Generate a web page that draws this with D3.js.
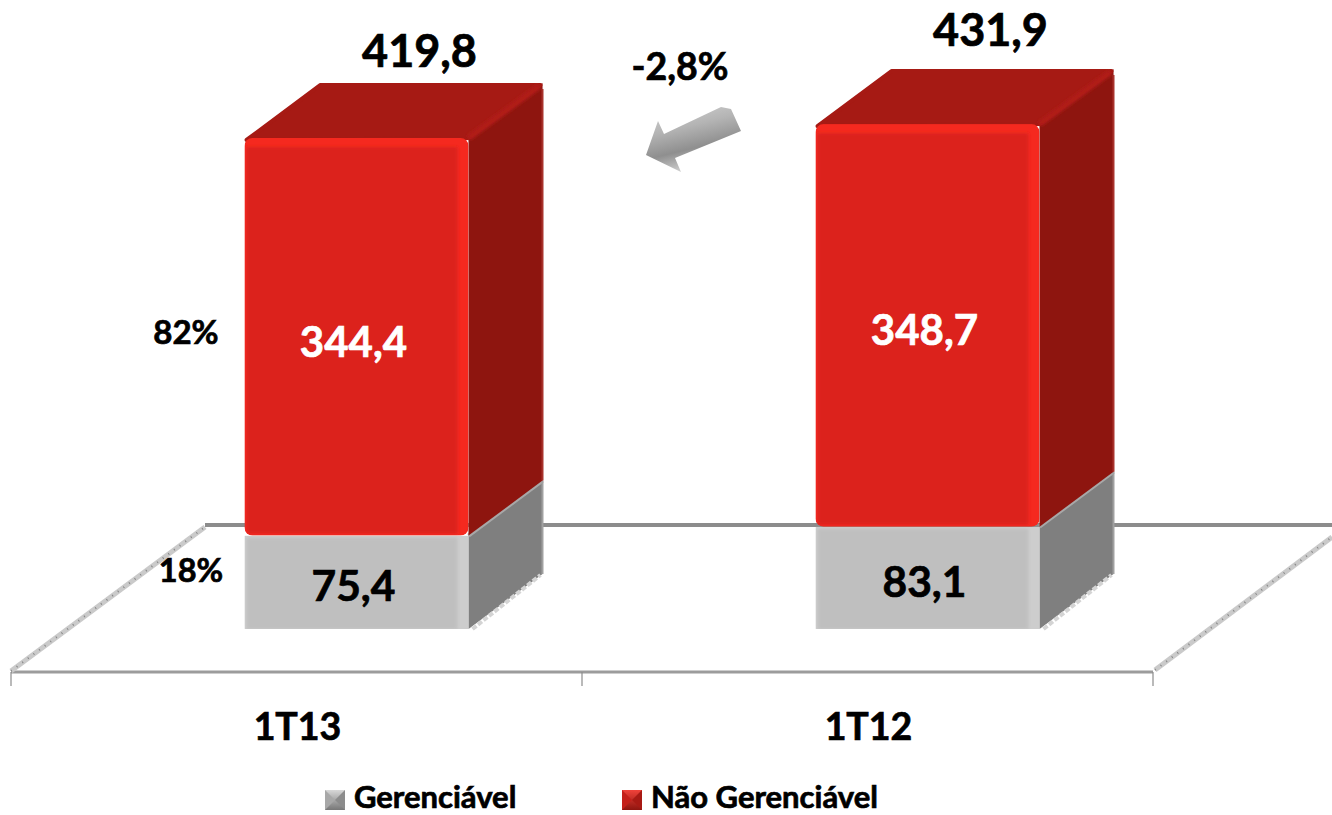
<!DOCTYPE html>
<html>
<head>
<meta charset="utf-8">
<script src="https://cdn.jsdelivr.net/npm/d3@7"></script>
<style>
	html, body { margin: 0; padding: 0; background: #fff; overflow: hidden; }
	text { font-family: Lato, "Open Sans", sans-serif; font-weight: 700; fill: #000; stroke: #000; stroke-width: 0.7; }
</style>
</head>
<body>
<svg id="chart" width="1332" height="815"></svg>
<script>
"use strict";

// Chart data
const categories = ["1T13", "1T12"];
const gerenciavel = [75.4, 83.1];
const naoGerenciavel = [344.4, 348.7];
const totals = [419.8, 431.9];
const shareGerenciavel = ["18%", null];
const shareNaoGerenciavel = ["82%", null];
const seriesNames = ["Gerenciável", "Não Gerenciável"];
const variation = "-2,8%";

// Layout
const width = 1332;
const barWidth = 224;
const barShift = 60; // Front face sits right of the band centre
const depthX = 74;
const depthY = 55;
const fmt = v => d3.format(".1f")(v).replace(".", ",");

const svg = d3.select("#chart");
const defs = svg.append("defs");

const x = d3.scaleBand().domain(categories).range([11, 1153]);
// The floor hangs a bit below zero, so the domain starts under it
const y = d3.scaleLinear().domain([-5.5, 431.9]).range([629, 124]);

const stacked = d3.stack().keys([0, 1]).value((d, k) => d[k])(
	categories.map((c, i) => [gerenciavel[i], naoGerenciavel[i]])
);

function linearGradient(id, stops, x2 = 0, y2 = 1) {
	const g = defs.append("linearGradient").attr("id", id)
		.attr("x1", 0).attr("y1", 0).attr("x2", x2).attr("y2", y2);
	stops.forEach(([o, c]) => g.append("stop").attr("offset", o).attr("stop-color", c));
}

linearGradient("arrowFill", [[0, "#d4d4d4"], [0.4, "#b4b4b4"], [0.72, "#8f8f8f"], [1, "#cfcfcf"]], 0.35, 1);
linearGradient("legendGrey", [[0, "#d8d8d8"], [1, "#777"]]);
linearGradient("legendRed", [[0, "#f0423a"], [1, "#8e150f"]]);

defs.append("filter").attr("id", "soft")
	.attr("x", "-5%").attr("y", "-5%").attr("width", "110%").attr("height", "110%")
	.append("feGaussianBlur").attr("stdDeviation", 1.6);
defs.append("filter").attr("id", "softer")
	.attr("x", "-5%").attr("y", "-5%").attr("width", "110%").attr("height", "110%")
	.append("feGaussianBlur").attr("stdDeviation", 0.7);

const palette = [
	{front: "#bfbfbf", edge: "#cdcdcd", top: "#a5a5a5", side: "#7f7f7f", rim: "#a8a8a8"},
	{front: "#dc241e", edge: "#f5291f", top: "#a61a14", side: "#8e150f", rim: "#b01c15"}
];

// Floor of the 3D plot
const floorFront = 672;
const floorBack = 525;
const floor = svg.append("g");
floor.append("line")
	.attr("x1", 205).attr("x2", width)
	.attr("y1", floorBack).attr("y2", floorBack)
	.attr("stroke", "#8c8c8c").attr("stroke-width", 4);
floor.append("line")
	.attr("x1", x.range()[0]).attr("x2", x.range()[1])
	.attr("y1", floorFront).attr("y2", floorFront)
	.attr("stroke", "#9c9c9c").attr("stroke-width", 3);

[[11, 671, 205, 527], [1155, 670, 1332, 537]].forEach(([x1, y1, x2, y2]) => {
	floor.append("line")
		.attr("x1", x1).attr("y1", y1).attr("x2", x2).attr("y2", y2)
		.attr("stroke", "#cacaca").attr("stroke-width", 5);
	floor.append("line")
		.attr("x1", x1).attr("y1", y1).attr("x2", x2).attr("y2", y2)
		.attr("stroke", "#858585").attr("stroke-width", 2).attr("stroke-dasharray", "1 6");
});

floor.selectAll("line.tick")
	.data([...categories.map(c => x(c)), x.range()[1]])
	.enter()
	.append("line")
	.attr("class", "tick")
	.attr("x1", d => d).attr("x2", d => d)
	.attr("y1", floorFront).attr("y2", floorFront + 14)
	.attr("stroke", "#8c8c8c").attr("stroke-width", 1.2);

// Bars, one segment at a time
function frontLeft(i) {
	return x(categories[i]) + x.bandwidth() / 2 + barShift - barWidth / 2;
}

function drawSegment(g, i, s, d) {
	const xl = frontLeft(i);
	const xr = xl + barWidth;
	const yb = y(d[0] < 1 ? -5.5 : d[0]);
	const yt = y(d[1]);
	const c = palette[s];
	const poly = pts => g.append("polygon").attr("points", pts.map(p => p.join(",")).join(" "));

	poly([[xr, yb], [xr + depthX, yb - depthY], [xr + depthX, yt - depthY], [xr, yt]])
		.attr("fill", c.side);

	if (s === 1) {
		poly([[xl + 2, yt + 2], [xl + depthX + 2, yt - depthY + 2], [xr + depthX - 2, yt - depthY + 2], [xr, yt]])
			.attr("fill", c.top).attr("stroke", c.top).attr("stroke-width", 4).attr("stroke-linejoin", "round");
		g.append("line")
			.attr("x1", xr).attr("y1", yt).attr("x2", xr + depthX - 3).attr("y2", yt - depthY + 3)
			.attr("stroke", c.rim).attr("stroke-width", 6).attr("filter", "url(#soft)");
		g.append("line")
			.attr("x1", xr + depthX).attr("y1", yt - depthY + 6).attr("x2", xr + depthX).attr("y2", yb - depthY)
			.attr("stroke", "#a8322c").attr("stroke-width", 2);
	} else {
		g.append("line")
			.attr("x1", xr).attr("y1", yt).attr("x2", xr + depthX).attr("y2", yt - depthY)
			.attr("stroke", c.rim).attr("stroke-width", 4);
		g.append("line")
			.attr("x1", xr + 4).attr("y1", yb).attr("x2", xr + depthX - 2).attr("y2", yb - depthY + 1)
			.attr("stroke", "#d4d4d4").attr("stroke-width", 4).attr("stroke-dasharray", "5 2");
		g.append("line")
			.attr("x1", xr + depthX).attr("y1", yt - depthY).attr("x2", xr + depthX).attr("y2", yb - depthY)
			.attr("stroke", "#a0a0a0").attr("stroke-width", 2);
	}

	const clipId = `clip-${s}-${i}`;
	defs.append("clipPath").attr("id", clipId)
		.append("rect")
		.attr("x", xl).attr("y", yt).attr("width", barWidth).attr("height", yb - yt)
		.attr("rx", s === 1 ? 8 : 0);

	const face = g.append("g").attr("clip-path", `url(#${clipId})`);
	face.append("rect")
		.attr("x", xl).attr("y", yt).attr("width", barWidth).attr("height", yb - yt)
		.attr("fill", c.edge);
	face.append("rect")
		.attr("x", xl + 2).attr("y", yt + (s === 1 ? 9 : 2)).attr("width", barWidth - 13).attr("height", yb - yt - (s === 1 ? 11 : 2))
		.attr("fill", c.front).attr("filter", "url(#soft)");
}

const bars = svg.append("g");
stacked.forEach((layer, s) => {
	layer.forEach((d, i) => drawSegment(bars, i, s, d));
});

// Labels
function label(txt, px, py, size, fill = "#000") {
	return svg.append("text")
		.attr("x", px).attr("y", py)
		.attr("text-anchor", "middle")
		.attr("font-size", size)
		.style("fill", fill)
		.style("stroke", fill)
		.text(txt);
}

const totalRaise = [71, 78];
categories.forEach((c, i) => {
	const centre = frontLeft(i) + barWidth / 2;
	label(c, x(c) + x.bandwidth() / 2 + 1, 740, 37.5);
	label(fmt(totals[i]), centre + 63, y(totals[i]) - totalRaise[i], 45);
	label(fmt(gerenciavel[i]), centre - 3, (y(gerenciavel[i]) + 629) / 2 + 19, 42.5);
	label(fmt(naoGerenciavel[i]), centre - 3, (y(totals[i]) + y(gerenciavel[i])) / 2 + 20, 42, "#fff");
	if (shareNaoGerenciavel[i]) label(shareNaoGerenciavel[i], 186, 344, 33);
	if (shareGerenciavel[i]) label(shareGerenciavel[i], 191, 582, 32.5);
});

// Variation arrow
label(variation, 680, 80, 37.5);
svg.append("polygon")
	.attr("points", "721,107 731,109 741,131 675,158 681,172 646,155 658,121 664,134")
	.attr("fill", "url(#arrowFill)")
	.attr("filter", "url(#softer)");

// Legend
const legendX = [325, 622];
seriesNames.forEach((name, i) => {
	const g = svg.append("g").attr("transform", `translate(${legendX[i]},790)`);
	g.append("rect").attr("width", 20).attr("height", 20)
		.attr("fill", i === 0 ? "url(#legendGrey)" : "url(#legendRed)");
	g.append("polygon").attr("points", "0,0 10,10 0,20").attr("fill", i === 0 ? "#a8a8a8" : "#c4201a");
	g.append("polygon").attr("points", "20,0 10,10 20,20").attr("fill", i === 0 ? "#8c8c8c" : "#a81a14");
	g.append("text").attr("x", 29).attr("y", 18).attr("font-size", 31).text(name);
});
</script>
</body>
</html>
